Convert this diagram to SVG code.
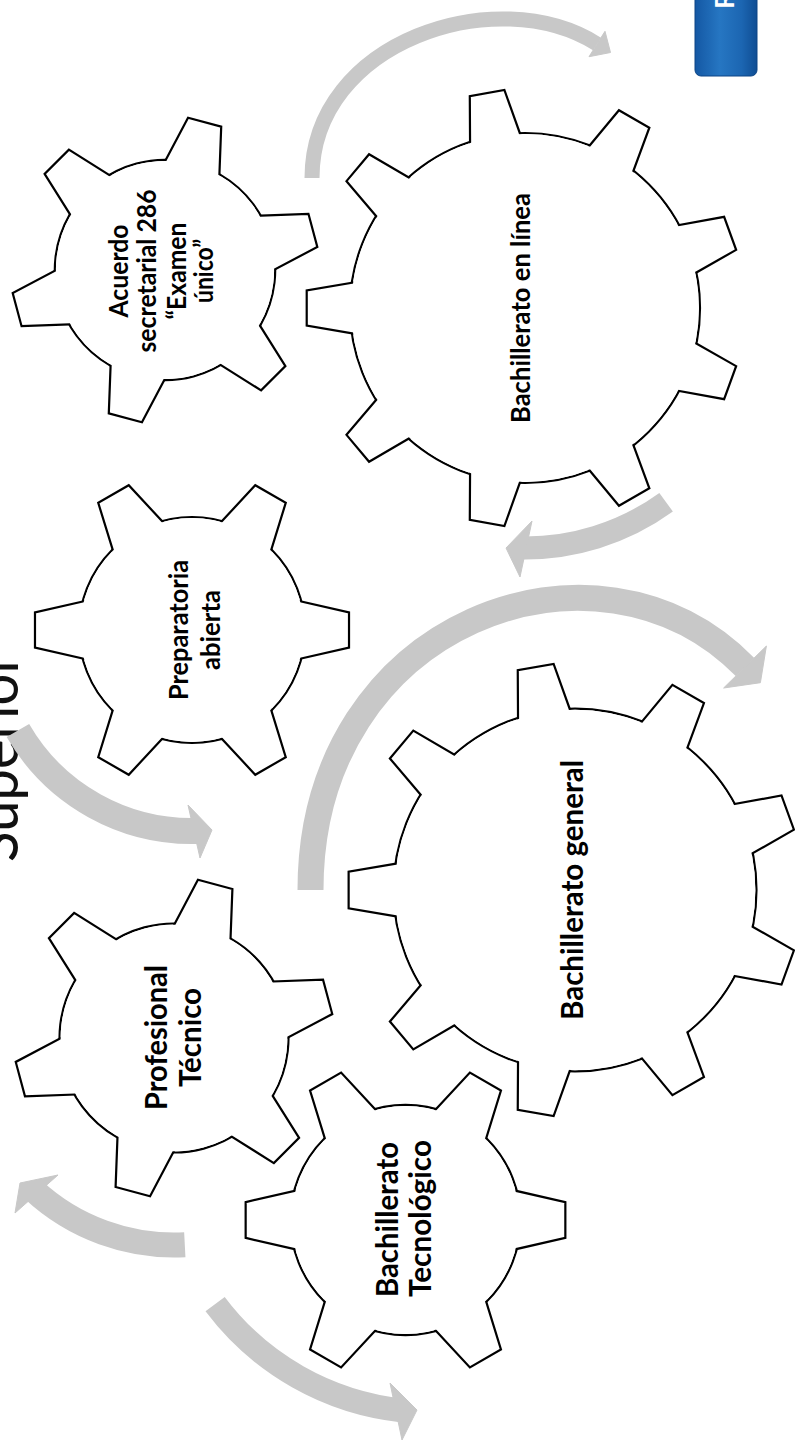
<svg xmlns="http://www.w3.org/2000/svg" xmlns:xlink="http://www.w3.org/1999/xlink" width="795" height="1447" viewBox="0 0 795 1447">
<style>
  .rim{fill:#fff;stroke:#000;stroke-width:2.2}
  .tooth{fill:#fff;stroke:#000;stroke-width:2.2;stroke-linejoin:miter}
  .hub{fill:#fff;stroke:none}
  .lbl{font-family:Lato,'Open Sans','Liberation Sans',sans-serif;font-weight:700;fill:#000;text-anchor:middle}
  .s27{font-size:27px}
  .s31{font-size:31px}
  .body{fill:none;stroke:#c8c8c8;stroke-linecap:butt}
  .head{fill:#c8c8c8;stroke:#c8c8c8;stroke-width:1;stroke-linejoin:round}
  .title{font-family:Lato,'Liberation Sans',sans-serif;font-weight:400;font-size:60px;fill:#111;text-anchor:middle}
</style>
<defs>
  <linearGradient id="blue" x1="0" y1="0" x2="1" y2="0">
    <stop offset="0" stop-color="#1458a4"/>
    <stop offset="0.4" stop-color="#2676c2"/>
    <stop offset="0.75" stop-color="#1c66b2"/>
    <stop offset="1" stop-color="#0f4d93"/>
  </linearGradient>
  <polygon id="toothS" points="95.05,-31.74 157.02,-17.61 157.02,17.61 95.05,31.74" vector-effect="non-scaling-stroke"/>
  <polygon id="toothL" points="159.63,-27.57 218.29,-17.56 218.29,17.56 159.63,27.57" vector-effect="non-scaling-stroke"/>
  <g id="gearS">
    <circle r="113" class="rim" vector-effect="non-scaling-stroke"/>
    <use href="#toothS" class="tooth"/>
    <use href="#toothS" class="tooth" transform="rotate(60)"/>
    <use href="#toothS" class="tooth" transform="rotate(120)"/>
    <use href="#toothS" class="tooth" transform="rotate(180)"/>
    <use href="#toothS" class="tooth" transform="rotate(240)"/>
    <use href="#toothS" class="tooth" transform="rotate(300)"/>
    <circle r="111.9" class="hub"/>
  </g>
  <g id="gearL">
    <circle r="175" class="rim" vector-effect="non-scaling-stroke"/>
    <use href="#toothL" class="tooth" transform="rotate(20)"/>
    <use href="#toothL" class="tooth" transform="rotate(60)"/>
    <use href="#toothL" class="tooth" transform="rotate(100)"/>
    <use href="#toothL" class="tooth" transform="rotate(140)"/>
    <use href="#toothL" class="tooth" transform="rotate(180)"/>
    <use href="#toothL" class="tooth" transform="rotate(220)"/>
    <use href="#toothL" class="tooth" transform="rotate(260)"/>
    <use href="#toothL" class="tooth" transform="rotate(300)"/>
    <use href="#toothL" class="tooth" transform="rotate(340)"/>
    <circle r="173.9" class="hub"/>
  </g>
</defs>

<rect width="795" height="1447" fill="#fff"/>

<g id="title">
  <text class="title" x="18" y="757.5" transform="rotate(-90 18 757.5)" textLength="209" lengthAdjust="spacingAndGlyphs">Superior</text>
</g>

<g id="badge">
  <rect x="695" y="-10" width="62" height="86" rx="6" fill="url(#blue)" stroke="#0d4585" stroke-width="1"/>
  <text x="734" y="9" transform="rotate(-90 734 9)" font-family="Lato,'Liberation Sans',sans-serif" font-weight="700" font-size="27" fill="#fff">R</text>
</g>

<g id="connectors">
  <path class="body" stroke-width="15" d="M312,178 C312,41 497,-19 597,44"/>
  <polygon class="head" points="605,31.3 589,56.7 610.5,52.5"/>

  <path class="body" stroke-width="23" d="M666.1,502.2 A240,240 0 0 1 518.7,547.9"/>
  <polygon class="head" points="532,521 520,577 506,548"/>

  <path class="body" stroke-width="26" d="M310.5,890 C310.5,620 598,517 745,667"/>
  <polygon class="head" points="766.4,646 723.6,688 760.4,682.7"/>

  <path class="body" stroke-width="26" d="M17.9,730.5 A201,201 0 0 0 199,830.9"/>
  <polygon class="head" points="188,805 200,858 212,830"/>

  <path class="body" stroke-width="25" d="M184.8,1244.7 A207,207 0 0 1 32.8,1189.4"/>
  <polygon class="head" points="58,1175 15,1213 20,1183"/>

  <path class="body" stroke-width="24" d="M215.1,1304.1 A270,270 0 0 0 402.8,1410.5"/>
  <polygon class="head" points="390,1383 402,1440 417,1410"/>
</g>

<g id="gear-acuerdo">
  <use href="#gearS" transform="translate(165,270) rotate(-15) scale(0.975)"/>
  <text class="lbl s27" x="128" y="271" transform="rotate(-90 128 271)" textLength="93" lengthAdjust="spacingAndGlyphs">Acuerdo</text>
  <text class="lbl s27" x="156" y="271" transform="rotate(-90 156 271)" textLength="163" lengthAdjust="spacingAndGlyphs">secretarial 286</text>
  <text class="lbl s27" x="186" y="271" transform="rotate(-90 186 271)" textLength="97" lengthAdjust="spacingAndGlyphs">“Examen</text>
  <text class="lbl s27" x="213" y="271" transform="rotate(-90 213 271)" textLength="64" lengthAdjust="spacingAndGlyphs">único”</text>
</g>

<g id="gear-linea">
  <use href="#gearL" transform="translate(525,308)"/>
  <text class="lbl s27" x="530" y="308" transform="rotate(-90 530 308)" textLength="230" lengthAdjust="spacingAndGlyphs">Bachillerato en línea</text>
</g>

<g id="gear-preparatoria">
  <use href="#gearS" transform="translate(192,630)"/>
  <text class="lbl s27" x="188" y="630" transform="rotate(-90 188 630)" textLength="140" lengthAdjust="spacingAndGlyphs">Preparatoria</text>
  <text class="lbl s27" x="220" y="630" transform="rotate(-90 220 630)" textLength="80" lengthAdjust="spacingAndGlyphs">abierta</text>
</g>

<g id="gear-general">
  <use href="#gearL" transform="translate(575,890) scale(1.037)"/>
  <text class="lbl s31" x="583" y="890" transform="rotate(-90 583 890)" textLength="260" lengthAdjust="spacingAndGlyphs">Bachillerato general</text>
</g>

<g id="gear-profesional">
  <use href="#gearS" transform="translate(174,1038) rotate(-15) scale(1.013)"/>
  <text class="lbl s31" x="167" y="1037.5" transform="rotate(-90 167 1037.5)" textLength="145" lengthAdjust="spacingAndGlyphs">Profesional</text>
  <text class="lbl s31" x="201" y="1037.5" transform="rotate(-90 201 1037.5)" textLength="99" lengthAdjust="spacingAndGlyphs">Técnico</text>
</g>

<g id="gear-tecnologico">
  <use href="#gearS" transform="translate(405.5,1220) scale(1.018)"/>
  <text class="lbl s31" x="398" y="1219.5" transform="rotate(-90 398 1219.5)" textLength="155" lengthAdjust="spacingAndGlyphs">Bachillerato</text>
  <text class="lbl s31" x="431" y="1218.5" transform="rotate(-90 431 1218.5)" textLength="157" lengthAdjust="spacingAndGlyphs">Tecnológico</text>
</g>
</svg>
